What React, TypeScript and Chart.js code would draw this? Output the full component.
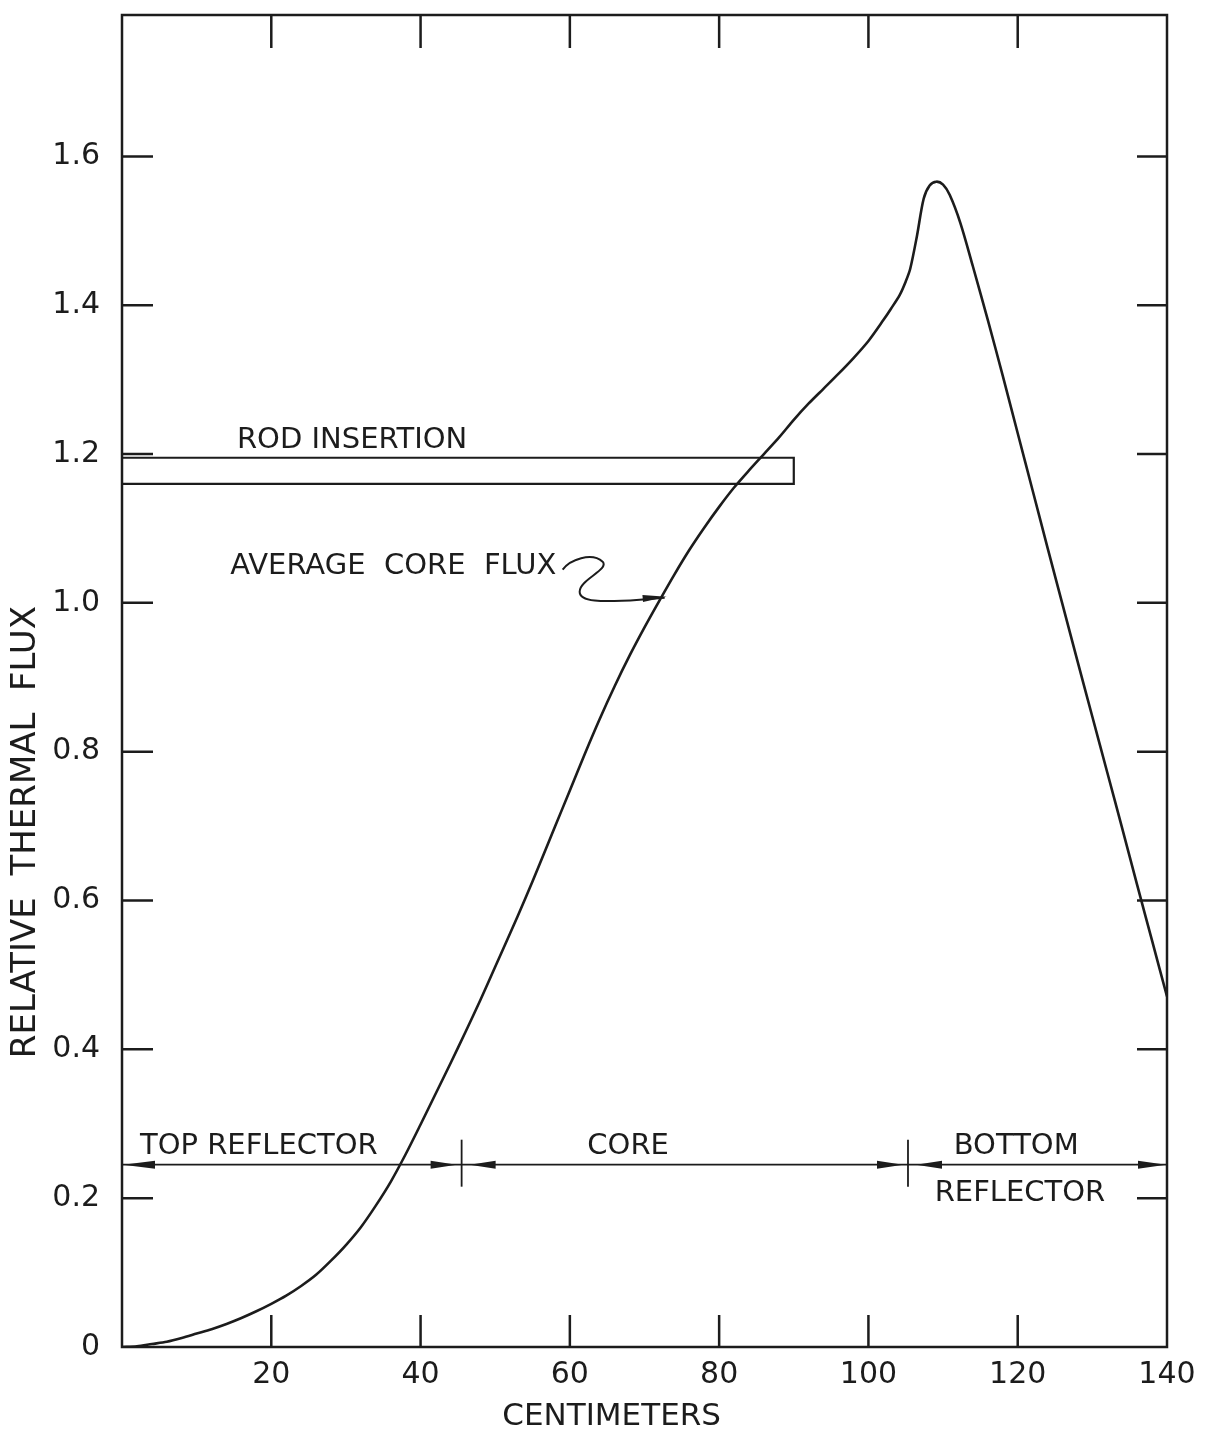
import React, { useEffect, useRef } from "react";
import { Chart, registerables } from "chart.js";

Chart.register(...registerables);

// ---- data ----
const positionsCm = [
  0, 2, 4, 6, 8, 10, 12, 14, 16, 18, 20, 22, 24, 26, 28, 30, 32, 34, 36, 38, 40,
  42, 44, 46, 48, 50, 52, 54, 56, 58, 60, 62, 64, 66, 68, 70, 72, 74, 76, 78, 80,
  82, 84, 86, 88, 90, 92, 94, 96, 98, 100, 102, 103, 104.2, 105, 105.6, 106.5,
  107.4, 108.2, 109.1, 110, 110.9, 112.3, 114, 116, 118, 120, 122, 124, 126,
  128, 130, 132, 134, 136, 138, 140,
];
const relativeFlux = [
  0, 0.001, 0.004, 0.007, 0.012, 0.018, 0.024, 0.031, 0.039, 0.048, 0.058,
  0.069, 0.082, 0.097, 0.116, 0.137, 0.161, 0.19, 0.222, 0.259, 0.299, 0.34,
  0.381, 0.423, 0.466, 0.511, 0.556, 0.602, 0.65, 0.699, 0.748, 0.797, 0.844,
  0.888, 0.929, 0.967, 1.003, 1.038, 1.071, 1.101, 1.129, 1.155, 1.178, 1.2,
  1.222, 1.246, 1.268, 1.288, 1.308, 1.329, 1.352, 1.38, 1.395, 1.414, 1.432,
  1.449, 1.493, 1.543, 1.561, 1.566, 1.562, 1.548, 1.511, 1.452, 1.38, 1.305,
  1.228, 1.151, 1.074, 0.998, 0.922, 0.847, 0.772, 0.697, 0.621, 0.546, 0.471,
];

// rod insertion band (cm, relative flux)
const rodEndCm = [90];
const rodLevels = [1.195, 1.16];

// region bar
const regionBoundariesCm = [0, 45.5, 105.3, 140];
const regionArrowLevel = [0.245];

// tick labels
const xTickValues = [20, 40, 60, 80, 100, 120, 140];
const yTickValues = [0, 0.2, 0.4, 0.6, 0.8, 1.0, 1.2, 1.4, 1.6];

const xTitle = "CENTIMETERS";
const yTitle = "RELATIVE  THERMAL  FLUX";

const annotationLabels = [
  { text: "ROD INSERTION", x: 15.4, y: 1.223, align: "left" },
  { text: "AVERAGE  CORE  FLUX", x: 14.5, y: 1.054, align: "left" },
  { text: "TOP REFLECTOR", x: 2.4, y: 0.274, align: "left" },
  { text: "CORE", x: 67.8, y: 0.274, align: "center" },
  { text: "BOTTOM", x: 119.8, y: 0.274, align: "center" },
  { text: "REFLECTOR", x: 120.3, y: 0.211, align: "center" },
];
const pointerTarget = { x: 72.7, y: 1.007 };

const FONT = '"DejaVu Sans", sans-serif';
const INK = "#1c1c1c";

function arrowHead(ctx: CanvasRenderingContext2D, tx: number, ty: number, dir: number, len = 26, hw = 4) {
  ctx.beginPath();
  ctx.moveTo(tx, ty);
  ctx.lineTo(tx - dir * len, ty - hw);
  ctx.lineTo(tx - dir * len, ty + hw);
  ctx.closePath();
  ctx.fill();
}

const decorPlugin = {
  id: "decor",
  beforeDraw(chart: any) {
    const ctx = chart.ctx;
    ctx.save();
    ctx.fillStyle = "#ffffff";
    ctx.fillRect(0, 0, chart.width, chart.height);
    ctx.restore();
  },
  afterDatasetsDraw(chart: any) {
    const ctx: CanvasRenderingContext2D = chart.ctx;
    const xs = chart.scales.x;
    const ys = chart.scales.y;
    const { left, right, top, bottom } = chart.chartArea;
    ctx.save();
    ctx.strokeStyle = INK;
    ctx.fillStyle = INK;
    ctx.lineCap = "butt";

    // frame
    ctx.lineWidth = 2.5;
    ctx.strokeRect(left, top, right - left, bottom - top);

    // inward ticks
    xs.ticks.forEach((t: any) => {
      if (t.value <= 0 || t.value >= 140) return;
      const px = xs.getPixelForValue(t.value);
      ctx.beginPath();
      ctx.moveTo(px, bottom);
      ctx.lineTo(px, bottom - 32);
      ctx.moveTo(px, top);
      ctx.lineTo(px, top + 33);
      ctx.stroke();
    });
    ys.ticks.forEach((t: any) => {
      if (t.value <= 0) return;
      const py = ys.getPixelForValue(t.value);
      ctx.beginPath();
      ctx.moveTo(left, py);
      ctx.lineTo(left + 31, py);
      ctx.moveTo(right, py);
      ctx.lineTo(right - 30, py);
      ctx.stroke();
    });

    // region dividers and arrowheads
    const ay = ys.getPixelForValue(regionArrowLevel[0]);
    ctx.lineWidth = 1.8;
    regionBoundariesCm.slice(1, -1).forEach((b) => {
      const px = xs.getPixelForValue(b);
      ctx.beginPath();
      ctx.moveTo(px, ay - 25);
      ctx.lineTo(px, ay + 22);
      ctx.stroke();
      arrowHead(ctx, px - 5, ay, 1);
      arrowHead(ctx, px + 8, ay, -1);
    });
    arrowHead(ctx, xs.getPixelForValue(regionBoundariesCm[0]) + 1, ay, -1, 32);
    arrowHead(ctx, xs.getPixelForValue(regionBoundariesCm[regionBoundariesCm.length - 1]) - 1, ay, 1, 28);

    // annotation labels
    ctx.font = `29px ${FONT}`;
    ctx.textBaseline = "alphabetic";
    annotationLabels.forEach((a) => {
      ctx.textAlign = a.align as CanvasTextAlign;
      ctx.fillText(a.text, xs.getPixelForValue(a.x), ys.getPixelForValue(a.y) + 11);
    });

    // squiggle pointer
    const tx = xs.getPixelForValue(pointerTarget.x);
    const ty = ys.getPixelForValue(pointerTarget.y);
    ctx.lineWidth = 2;
    ctx.beginPath();
    ctx.moveTo(tx - 102, ty - 28);
    ctx.bezierCurveTo(tx - 95, ty - 38, tx - 73, ty - 46, tx - 62, ty - 36);
    ctx.bezierCurveTo(tx - 55, ty - 28, tx - 85, ty - 18, tx - 85, ty - 6);
    ctx.bezierCurveTo(tx - 85, ty + 4, tx - 65, ty + 5, tx - 25, ty + 2);
    ctx.lineTo(tx, ty);
    ctx.stroke();
    ctx.save();
    ctx.translate(tx + 2, ty - 1);
    ctx.rotate(-0.08);
    arrowHead(ctx, 0, 0, 1, 24, 3.5);
    ctx.restore();

    // axis titles
    ctx.textAlign = "center";
    ctx.textBaseline = "middle";
    ctx.font = `31px ${FONT}`;
    ctx.fillText(xTitle, xs.getPixelForValue(65.6), 1417);
    ctx.save();
    ctx.translate(26, ys.getPixelForValue(0.692));
    ctx.rotate(-Math.PI / 2);
    ctx.font = `34px ${FONT}`;
    ctx.fillText(yTitle, 0, 0);
    ctx.restore();

    ctx.restore();
  },
};

export default function App() {
  const ref = useRef<HTMLCanvasElement | null>(null);

  useEffect(() => {
    if (!ref.current) return;
    const fluxData = positionsCm.map((x, i) => ({ x, y: relativeFlux[i] }));
    const rodData = [
      { x: 0, y: rodLevels[0] },
      { x: rodEndCm[0], y: rodLevels[0] },
      { x: rodEndCm[0], y: rodLevels[1] },
      { x: 0, y: rodLevels[1] },
    ];
    const regionData = [
      { x: regionBoundariesCm[0], y: regionArrowLevel[0] },
      { x: regionBoundariesCm[regionBoundariesCm.length - 1], y: regionArrowLevel[0] },
    ];
    const chart = new Chart(ref.current, {
      type: "line",
      data: {
        datasets: [
          {
            label: "Average core flux",
            data: fluxData,
            borderColor: INK,
            borderWidth: 2.6,
            pointRadius: 0,
            tension: 0.3,
            fill: false,
          },
          {
            label: "Rod insertion",
            data: rodData,
            borderColor: INK,
            borderWidth: 2.2,
            pointRadius: 0,
            tension: 0,
            fill: false,
          },
          {
            label: "Regions",
            data: regionData,
            borderColor: INK,
            borderWidth: 1.8,
            pointRadius: 0,
            tension: 0,
            fill: false,
          },
        ],
      },
      options: {
        animation: false,
        responsive: false,
        devicePixelRatio: 1,
        layout: { autoPadding: false, padding: { top: 15, right: 39, left: 0, bottom: 0 } },
        plugins: {
          legend: { display: false },
          tooltip: { enabled: false },
          title: { display: false },
        },
        scales: {
          x: {
            type: "linear",
            min: 0,
            max: 140,
            afterBuildTicks: (scale: any) => {
              scale.ticks = xTickValues.map((v) => ({ value: v }));
            },
            afterFit: (scale: any) => {
              scale.height = 88;
              scale.paddingLeft = 0;
              scale.paddingRight = 0;
            },
            grid: { display: false, drawTicks: false },
            border: { display: false },
            ticks: {
              color: INK,
              font: { family: FONT, size: 30 },
              padding: 10,
              maxRotation: 0,
              autoSkip: false,
              callback: (v: any) => String(v),
            },
          },
          y: {
            type: "linear",
            min: 0,
            max: 1.79,
            afterBuildTicks: (scale: any) => {
              scale.ticks = yTickValues.map((v) => ({ value: v }));
            },
            afterFit: (scale: any) => {
              scale.width = 122;
              scale.paddingTop = 0;
              scale.paddingBottom = 0;
            },
            grid: { display: false, drawTicks: false },
            border: { display: false },
            ticks: {
              color: INK,
              font: { family: FONT, size: 30 },
              padding: 22,
              autoSkip: false,
              callback: (v: any) => (Number(v) === 0 ? "0" : Number(v).toFixed(1)),
            },
          },
        },
      },
      plugins: [decorPlugin],
    } as any);
    return () => chart.destroy();
  }, []);

  return (
    <div style={{ position: "absolute", left: 0, top: 0, width: 1206, height: 1435 }}>
      <canvas ref={ref} width={1206} height={1435} style={{ width: 1206, height: 1435 }} />
    </div>
  );
}
